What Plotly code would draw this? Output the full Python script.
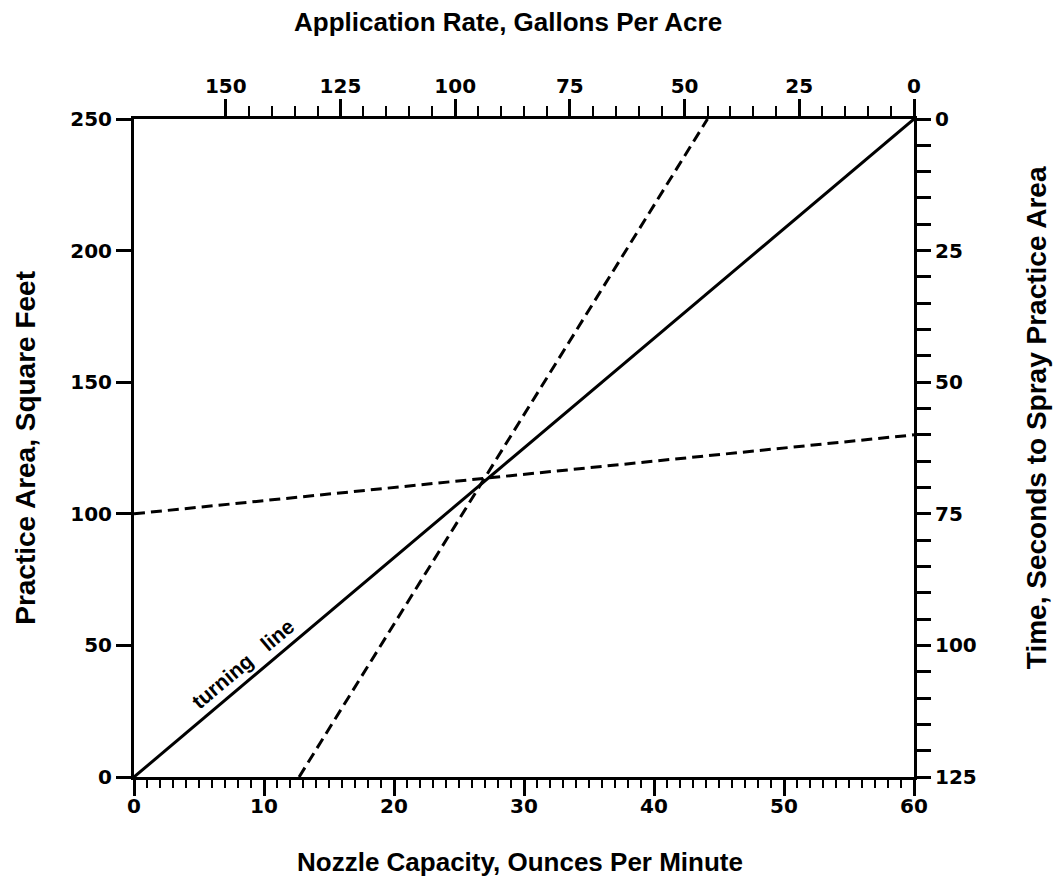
import plotly.graph_objects as go

# ---- data (bottom axis: nozzle capacity oz/min; left axis: practice area sq ft)
turning_x = [0, 60]
turning_y = [0, 250]

# steep dashed line: nozzle capacity 12.7 oz/min -> application rate 45 GPA (top axis)
steep_nozzle = 12.7
steep_gpa = 45
# shallow dashed line: practice area 100 sq ft (left) -> 60 s time (right)
shallow_area = 100
shallow_time = 60

x_ticks = [0, 10, 20, 30, 40, 50, 60]
x_minor = list(range(0, 61))
y_ticks = [0, 50, 100, 150, 200, 250]
gpa_ticks = [0, 25, 50, 75, 100, 125, 150]
gpa_minor = list(range(0, 151, 5))
time_ticks = [0, 25, 50, 75, 100, 125]
time_minor = list(range(0, 126, 5))

X_MAX = 60
Y_MAX = 250
GPA_MAX = 170
TIME_MAX = 125


def gpa_to_x(g):
    return X_MAX * (1 - g / GPA_MAX)


def time_to_y(t):
    return Y_MAX * (1 - t / TIME_MAX)


fig = go.Figure()
line_w = 3
dash = "11px,6px"
fig.add_trace(go.Scatter(x=turning_x, y=turning_y, mode="lines",
                         line=dict(color="black", width=line_w), showlegend=False))
fig.add_trace(go.Scatter(x=[steep_nozzle, gpa_to_x(steep_gpa)], y=[0, Y_MAX], mode="lines",
                         line=dict(color="black", width=line_w, dash=dash), showlegend=False))
fig.add_trace(go.Scatter(x=[0, X_MAX], y=[shallow_area, time_to_y(shallow_time)], mode="lines",
                         line=dict(color="black", width=line_w, dash=dash), showlegend=False))
# invisible trace to activate secondary axes
fig.add_trace(go.Scatter(x=[0], y=[0], xaxis="x2", yaxis="y2", mode="markers",
                         marker=dict(opacity=0), showlegend=False, hoverinfo="skip"))

tick_font = dict(family="DejaVu Sans", size=20, color="black", weight="bold")
h_title_font = dict(family="Liberation Sans, Arial", size=26, color="black")
v_title_font = dict(family="Liberation Sans, Arial", size=28, color="black")

fig.update_layout(
    width=1053, height=890,
    margin=dict(l=134, r=139, t=119, b=113),
    paper_bgcolor="white", plot_bgcolor="white",
    xaxis=dict(range=[0, X_MAX], tickvals=x_ticks, ticks="outside", ticklen=16, tickwidth=2.5,
               tickcolor="black", showline=True, linecolor="black", linewidth=3,
               showgrid=False, zeroline=False, tickfont=tick_font, ticklabelstandoff=-7,
               minor=dict(tickvals=x_minor, ticks="outside", ticklen=8, tickwidth=2, tickcolor="black")),
    yaxis=dict(range=[0, Y_MAX], tickvals=y_ticks, ticks="outside", ticklen=15, tickwidth=2.5,
               tickcolor="black", showline=True, linecolor="black", linewidth=3,
               showgrid=False, zeroline=False, tickfont=tick_font),
    xaxis2=dict(range=[GPA_MAX, 0], overlaying="x", side="top", tickvals=gpa_ticks,
                ticks="outside", ticklen=17, tickwidth=2.5, tickcolor="black",
                showline=True, linecolor="black", linewidth=3, showgrid=False, zeroline=False,
                tickfont=tick_font, ticklabelstandoff=-2,
                minor=dict(tickvals=gpa_minor, ticks="outside", ticklen=10, tickwidth=2, tickcolor="black")),
    yaxis2=dict(range=[TIME_MAX, 0], overlaying="y", side="right", tickvals=time_ticks,
                ticks="outside", ticklen=14, tickwidth=2.5, tickcolor="black",
                showline=True, linecolor="black", linewidth=3, showgrid=False, zeroline=False,
                tickfont=tick_font,
                minor=dict(tickvals=time_minor, ticks="outside", ticklen=14, tickwidth=2.5, tickcolor="black")),
)

annots = [
    dict(text="<b>Application Rate, Gallons Per Acre</b>", x=0.48, y=1.147, xref="paper", yref="paper",
         showarrow=False, font=h_title_font, xanchor="center", yanchor="middle"),
    dict(text="<b>Nozzle Capacity, Ounces Per Minute</b>", x=0.495, y=-0.129, xref="paper", yref="paper",
         showarrow=False, font=h_title_font, xanchor="center", yanchor="middle"),
    dict(text="<b>Practice Area, Square Feet</b>", x=-0.14, y=0.5, xref="paper", yref="paper",
         showarrow=False, font=v_title_font, textangle=-90, xanchor="center", yanchor="middle"),
    dict(text="<b>Time, Seconds to Spray Practice Area</b>", x=1.157, y=0.546, xref="paper", yref="paper",
         showarrow=False, font=v_title_font, textangle=-90, xanchor="center", yanchor="middle"),
    dict(text="<b>turning &nbsp;&nbsp;line</b>", x=8.4, y=43, xref="x", yref="y",
         showarrow=False, font=dict(family="Liberation Sans, Arial", size=21, color="black"),
         textangle=-40, xanchor="center", yanchor="middle"),
]
fig.update_layout(annotations=annots)

fig.write_html("out.html", config={"displayModeBar": False},
               post_script="document.body.style.margin='0';document.body.style.overflow='hidden';")
